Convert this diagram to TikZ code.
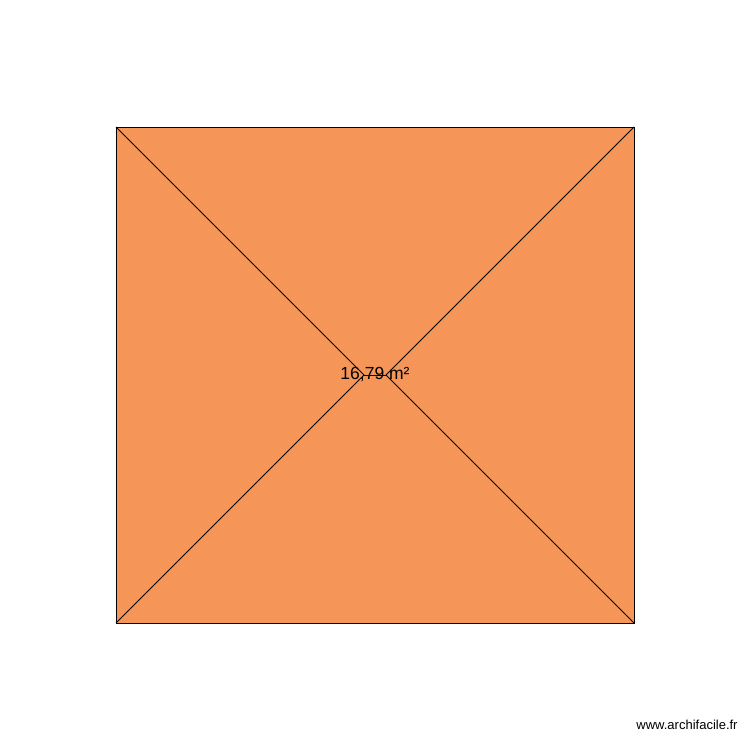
\documentclass[tikz,border=0pt]{standalone}
\usepackage{fontspec}
\setmainfont{Liberation Sans}
\definecolor{roof}{RGB}{245,150,88}
\begin{document}
\begin{tikzpicture}[x=1pt,y=-1pt,
  edge/.style={draw=black,line width=0.9pt},
  arealabel/.style={inner sep=0pt,font=\fontsize{17.5}{20}\selectfont},
  watermark/.style={inner sep=0pt,font=\fontsize{13}{15}\selectfont}]
\useasboundingbox (0,0) rectangle (750,750);
\fill[white] (0,0) rectangle (750,750);
\coordinate (tl) at (116,127);
\coordinate (tr) at (634,127);
\coordinate (br) at (634,623);
\coordinate (bl) at (116,623);
\coordinate (rl) at (364,375);
\coordinate (rr) at (386,375);
\fill[roof] (tl) -- (tr) -- (br) -- (bl) -- cycle;
\draw[edge] (tl) -- (tr) -- (br) -- (bl) -- cycle;
\draw[edge] (tl) -- (rl) -- (bl);
\draw[edge] (tr) -- (rr) -- (br);
\draw[edge] (rl) -- (rr);
\node[arealabel] (area) at (375,375) {16,79 m²};
\node[watermark] (wm) at (687,725) {www.archifacile.fr};
\end{tikzpicture}
\end{document}
